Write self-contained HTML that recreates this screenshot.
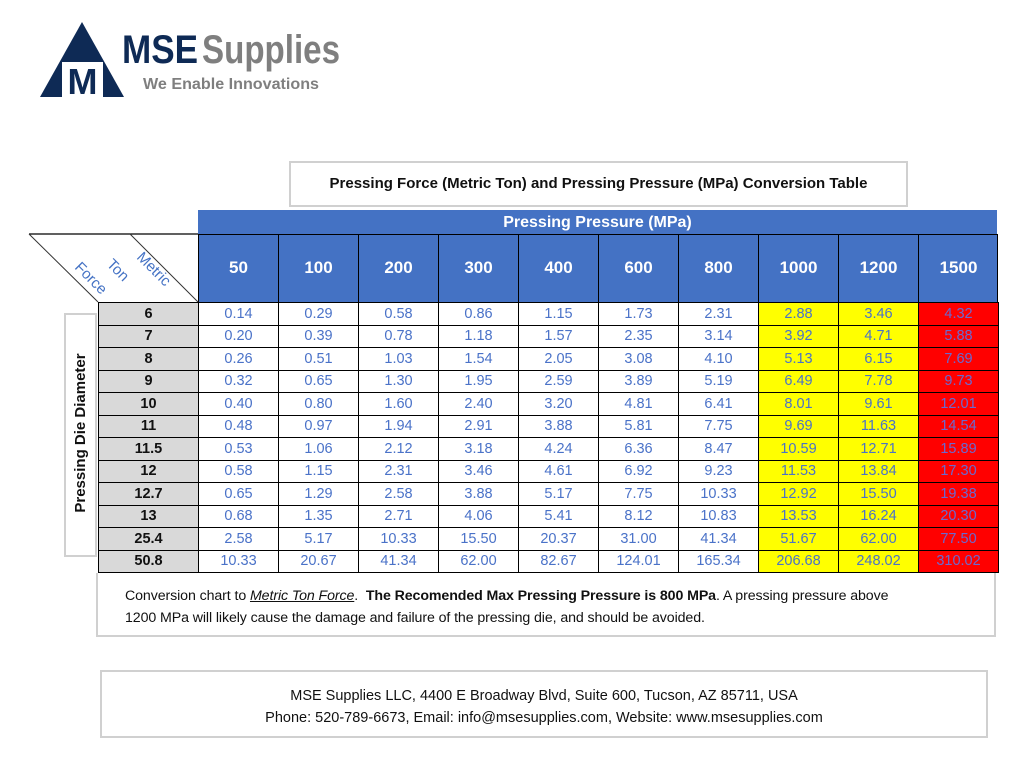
<!DOCTYPE html>
<html><head><meta charset="utf-8"><style>
body{margin:0;width:1029px;height:767px;background:#fff;position:relative;overflow:hidden;font-family:"Liberation Sans",sans-serif}
.a{position:absolute}
table{border-collapse:collapse;position:absolute;left:98px;top:302px;table-layout:fixed}
td{border:1px solid #000;height:21.5px;padding:0;text-align:center;font-size:14.5px;color:#4a72c8;line-height:20px}
td.l{background:#d9d9d9;color:#111;font-weight:bold;width:99px}
td.y{background:#ffff00}
td.r{background:#ff0000;color:#6a6ad0}
.hc{position:absolute;top:234px;height:68px;width:80px;color:#fff;font-weight:bold;font-size:17px;text-align:center;line-height:68px;border-left:1px solid #000;box-sizing:border-box}
</style></head><body>
<svg class="a" style="left:0;top:0" width="360" height="110">
<polygon points="82,22 40,97 124,97" fill="#0e2a55"/>
<rect x="62" y="62" width="41" height="35" fill="#fff"/>
<text x="82.5" y="94" font-family="Liberation Sans" font-weight="bold" font-size="36" fill="#0e2a55" text-anchor="middle">M</text>
<text x="122" y="63" font-family="Liberation Sans" font-weight="bold" font-size="40" fill="#0e2a55" textLength="76" lengthAdjust="spacingAndGlyphs">MSE</text>
<text x="202" y="63" font-family="Liberation Sans" font-weight="bold" font-size="40" fill="#7f7f7f" textLength="138" lengthAdjust="spacingAndGlyphs">Supplies</text>
<text x="143" y="89" font-family="Liberation Sans" font-weight="bold" font-size="16" fill="#7f7f7f" textLength="176" lengthAdjust="spacingAndGlyphs">We Enable Innovations</text>
</svg>
<div class="a" style="left:289px;top:161px;width:615px;height:42px;border:2px solid #d0d0d0;text-align:center;line-height:42px;font-weight:bold;font-size:15px;color:#111">Pressing Force (Metric Ton) and Pressing Pressure (MPa) Conversion Table</div>
<div class="a" style="left:198px;top:210px;width:799px;height:92px;background:#4472c4"></div>
<div class="a" style="left:198px;top:210px;width:799px;height:24px;color:#fff;font-weight:bold;font-size:16px;text-align:center;line-height:26px">Pressing Pressure (MPa)</div>
<div class="a" style="left:198px;top:234px;width:800px;height:1px;background:#000"></div>
<div class="hc" style="left:198px">50</div><div class="hc" style="left:278px">100</div><div class="hc" style="left:358px">200</div><div class="hc" style="left:438px">300</div><div class="hc" style="left:518px">400</div><div class="hc" style="left:598px">600</div><div class="hc" style="left:678px">800</div><div class="hc" style="left:758px">1000</div><div class="hc" style="left:838px">1200</div><div class="hc" style="left:918px">1500</div>
<div class="a" style="left:997px;top:234px;width:1px;height:68px;background:#000"></div>
<svg class="a" style="left:0;top:230px" width="200" height="75">
<line x1="29" y1="4" x2="198" y2="4" stroke="#000" stroke-width="1.2"/>
<line x1="29" y1="4" x2="98" y2="72" stroke="#333" stroke-width="1"/>
<line x1="130" y1="4" x2="198" y2="72" stroke="#333" stroke-width="1"/>
<g font-family="Liberation Sans" font-size="15" fill="#4472c4">
<text transform="translate(74,38) rotate(45)">Force</text>
<text transform="translate(106,35) rotate(45)">Ton</text>
<text transform="translate(136,28) rotate(45)">Metric</text>
</g></svg>
<div class="a" style="left:64px;top:313px;width:29px;height:240px;border:2px solid #d0d0d0"></div>
<div class="a" style="left:-44px;top:421px;width:250px;height:24px;transform:rotate(-90deg);text-align:center;font-weight:bold;font-size:15px;color:#111;line-height:24px">Pressing Die Diameter</div>
<table>
<tr><td class="l">6</td><td style="width:79px">0.14</td><td style="width:79px">0.29</td><td style="width:79px">0.58</td><td style="width:79px">0.86</td><td style="width:79px">1.15</td><td style="width:79px">1.73</td><td style="width:79px">2.31</td><td class="y" style="width:79px">2.88</td><td class="y" style="width:79px">3.46</td><td class="r" style="width:79px">4.32</td></tr>
<tr><td class="l">7</td><td>0.20</td><td>0.39</td><td>0.78</td><td>1.18</td><td>1.57</td><td>2.35</td><td>3.14</td><td class="y">3.92</td><td class="y">4.71</td><td class="r">5.88</td></tr>
<tr><td class="l">8</td><td>0.26</td><td>0.51</td><td>1.03</td><td>1.54</td><td>2.05</td><td>3.08</td><td>4.10</td><td class="y">5.13</td><td class="y">6.15</td><td class="r">7.69</td></tr>
<tr><td class="l">9</td><td>0.32</td><td>0.65</td><td>1.30</td><td>1.95</td><td>2.59</td><td>3.89</td><td>5.19</td><td class="y">6.49</td><td class="y">7.78</td><td class="r">9.73</td></tr>
<tr><td class="l">10</td><td>0.40</td><td>0.80</td><td>1.60</td><td>2.40</td><td>3.20</td><td>4.81</td><td>6.41</td><td class="y">8.01</td><td class="y">9.61</td><td class="r">12.01</td></tr>
<tr><td class="l">11</td><td>0.48</td><td>0.97</td><td>1.94</td><td>2.91</td><td>3.88</td><td>5.81</td><td>7.75</td><td class="y">9.69</td><td class="y">11.63</td><td class="r">14.54</td></tr>
<tr><td class="l">11.5</td><td>0.53</td><td>1.06</td><td>2.12</td><td>3.18</td><td>4.24</td><td>6.36</td><td>8.47</td><td class="y">10.59</td><td class="y">12.71</td><td class="r">15.89</td></tr>
<tr><td class="l">12</td><td>0.58</td><td>1.15</td><td>2.31</td><td>3.46</td><td>4.61</td><td>6.92</td><td>9.23</td><td class="y">11.53</td><td class="y">13.84</td><td class="r">17.30</td></tr>
<tr><td class="l">12.7</td><td>0.65</td><td>1.29</td><td>2.58</td><td>3.88</td><td>5.17</td><td>7.75</td><td>10.33</td><td class="y">12.92</td><td class="y">15.50</td><td class="r">19.38</td></tr>
<tr><td class="l">13</td><td>0.68</td><td>1.35</td><td>2.71</td><td>4.06</td><td>5.41</td><td>8.12</td><td>10.83</td><td class="y">13.53</td><td class="y">16.24</td><td class="r">20.30</td></tr>
<tr><td class="l">25.4</td><td>2.58</td><td>5.17</td><td>10.33</td><td>15.50</td><td>20.37</td><td>31.00</td><td>41.34</td><td class="y">51.67</td><td class="y">62.00</td><td class="r">77.50</td></tr>
<tr><td class="l">50.8</td><td>10.33</td><td>20.67</td><td>41.34</td><td>62.00</td><td>82.67</td><td>124.01</td><td>165.34</td><td class="y">206.68</td><td class="y">248.02</td><td class="r">310.02</td></tr>
</table>
<div class="a" style="left:96px;top:573px;width:896px;height:62px;border:2px solid #d0d0d0;border-top:none"></div>
<div class="a" style="left:125px;top:585px;width:845px;font-size:14.2px;line-height:22px;color:#111;letter-spacing:-0.1px">Conversion chart to <i><u>Metric Ton Force</u></i>.&nbsp; <b>The Recomended Max Pressing Pressure is 800 MPa</b>. A pressing pressure above<br>1200 MPa will likely cause the damage and failure of the pressing die, and should be avoided.</div>
<div class="a" style="left:100px;top:670px;width:888px;height:68px;border:2px solid #d0d0d0;text-align:center;font-size:14.5px;line-height:22px;color:#111;padding-top:13px;box-sizing:border-box">MSE Supplies LLC, 4400 E Broadway Blvd, Suite 600, Tucson, AZ 85711, USA<br>Phone: 520-789-6673, Email: info@msesupplies.com, Website: www.msesupplies.com</div>
</body></html>
